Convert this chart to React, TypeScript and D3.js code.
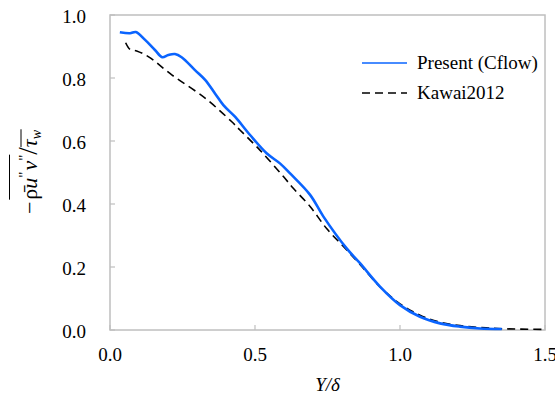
import React, { useLayoutEffect, useRef, useState } from "react";
import * as d3 from "d3";

const presentX = [0.034, 0.069, 0.089, 0.121, 0.155, 0.18, 0.201, 0.224, 0.247, 0.293, 0.328, 0.362, 0.391, 0.431, 0.483, 0.54, 0.586, 0.621, 0.69, 0.736, 0.816, 0.862, 0.931, 1.0, 1.069, 1.138, 1.207, 1.276, 1.351];
const presentY = [0.945, 0.942, 0.946, 0.921, 0.889, 0.866, 0.873, 0.876, 0.866, 0.825, 0.794, 0.751, 0.714, 0.677, 0.619, 0.561, 0.529, 0.497, 0.429, 0.36, 0.259, 0.212, 0.138, 0.079, 0.042, 0.021, 0.0106, 0.005, 0.003];

const kawaiX = [0.054, 0.069, 0.092, 0.132, 0.213, 0.328, 0.42, 0.448, 0.517, 0.598, 0.632, 0.69, 0.747, 0.805, 0.862, 0.931, 1.0, 1.069, 1.138, 1.207, 1.276, 1.351, 1.5];
const kawaiY = [0.912, 0.891, 0.886, 0.868, 0.81, 0.736, 0.661, 0.635, 0.571, 0.487, 0.45, 0.392, 0.322, 0.265, 0.208, 0.137, 0.083, 0.047, 0.025, 0.014, 0.008, 0.004, 0.002];

const xTicks = [0, 0.5, 1.0, 1.5];
const yTicks = [0, 0.2, 0.4, 0.6, 0.8, 1.0];
const seriesNames = ["Present (Cflow)", "Kawai2012"];

const W = 555, H = 396;
const M = { left: 110, right: 545, top: 15, bottom: 330 };
const FONT = "'Liberation Serif', 'Times New Roman', serif";
const GRAY = "#bfbfbf";
const BLUE = "#0a64ff";

export default function App() {
  const x = d3.scaleLinear().domain([0, 1.5]).range([M.left, M.right]);
  const y = d3.scaleLinear().domain([0, 1.0]).range([M.bottom, M.top]);
  const line = d3
    .line<[number, number]>()
    .x((d) => x(d[0]))
    .y((d) => y(d[1]))
    .curve(d3.curveCatmullRom.alpha(0.5));
  const pres = presentX.map((v, i) => [v, presentY[i]] as [number, number]);
  const kaw = kawaiX.map((v, i) => [v, kawaiY[i]] as [number, number]);

  const longRef = useRef<SVGTSpanElement>(null);
  const tauRef = useRef<SVGTSpanElement>(null);
  const [ov, setOv] = useState<null | { a: [number, number]; b: [number, number] }>(null);
  useLayoutEffect(() => {
    try {
      const b1 = (longRef.current as any).getBBox();
      const b2 = (tauRef.current as any).getBBox();
      setOv({ a: [b1.x, b1.x + b1.width], b: [b2.x, b2.x + b2.width] });
    } catch (e) {
      /* ignore */
    }
  }, []);

  return (
    <svg
      width={W}
      height={H}
      style={{ position: "absolute", left: 0, top: 0, background: "#fff" }}
      fontFamily={FONT}
    >
      <rect x={0} y={0} width={W} height={H} fill="#fff" />
      <rect
        x={M.left}
        y={M.top}
        width={M.right - M.left}
        height={M.bottom - M.top}
        fill="none"
        stroke={GRAY}
        strokeWidth={1.5}
      />
      {xTicks.map((t) => (
        <g key={"x" + t}>
          <line x1={x(t)} x2={x(t)} y1={M.bottom} y2={M.bottom - 5} stroke={GRAY} strokeWidth={1.2} />
          <text x={x(t)} y={361} textAnchor="middle" fontSize={19} fill="#000">
            {d3.format(".1f")(t)}
          </text>
        </g>
      ))}
      {yTicks.map((t) => (
        <g key={"y" + t}>
          <line x1={M.left} x2={M.left + 5} y1={y(t)} y2={y(t)} stroke={GRAY} strokeWidth={1.2} />
          <text x={86} y={y(t) + 7.5} textAnchor="end" fontSize={19} fill="#000">
            {d3.format(".1f")(t)}
          </text>
        </g>
      ))}
      <path d={line(kaw) || ""} fill="none" stroke="#000" strokeWidth={1.6} strokeDasharray="8,5" />
      <path d={line(pres) || ""} fill="none" stroke={BLUE} strokeWidth={2.6} />

      <line x1={362} x2={407} y1={63} y2={63} stroke={BLUE} strokeWidth={1.6} />
      <text x={417} y={68.5} fontSize={19} fill="#000">{seriesNames[0]}</text>
      <line x1={362} x2={407} y1={93} y2={93} stroke="#000" strokeWidth={1.6} strokeDasharray="8,5" />
      <text x={417} y={98.5} fontSize={19} fill="#000">{seriesNames[1]}</text>

      <text x={(M.left + M.right) / 2} y={391} textAnchor="middle" fontSize={19} fontStyle="italic" fill="#000">
        Y/δ
      </text>

      <g transform="translate(37,172) rotate(-90)">
        <text textAnchor="middle" fontSize={22} fill="#000">
          <tspan>−</tspan>
          <tspan ref={longRef} dx={2}>
            {"ρ\u0304"}
            <tspan fontStyle="italic">u</tspan>
            <tspan fontSize={15} dy={-8}>{"\""}</tspan>
            <tspan fontStyle="italic" dy={8} dx={1}>v</tspan>
            <tspan fontSize={15} dy={-8}>{"\""}</tspan>
          </tspan>
          <tspan fontSize={27} dy={8}>/</tspan>
          <tspan ref={tauRef}>
            <tspan fontStyle="italic">τ</tspan>
            <tspan fontStyle="italic" fontSize={14} dy={4}>w</tspan>
          </tspan>
        </text>
        {ov && (
          <>
            <line x1={ov.a[0]} x2={ov.a[1]} y1={-27.5} y2={-27.5} stroke="#000" strokeWidth={1} />
            <line x1={ov.b[0]} x2={ov.b[1]} y1={-16} y2={-16} stroke="#000" strokeWidth={1} />
          </>
        )}
      </g>
    </svg>
  );
}
